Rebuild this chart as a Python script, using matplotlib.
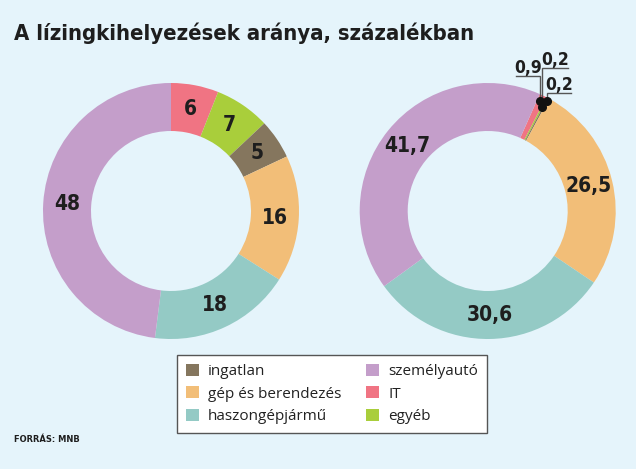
import matplotlib
matplotlib.use("Agg")
import matplotlib.pyplot as plt
from matplotlib.patches import Patch
from matplotlib import font_manager as fm
import numpy as np

# ---- data ----
categories = ["IT", "egyéb", "ingatlan", "gép és berendezés", "haszongépjármű", "személyautó"]
left_values = [6, 7, 5, 16, 18, 48]
right_values = [0.9, 0.2, 0.2, 26.5, 30.6, 41.7]
left_labels = ["6", "7", "5", "16", "18", "48"]
right_labels = ["0,9", "0,2", "0,2", "26,5", "30,6", "41,7"]
colors = ["#F07483", "#A9CE3B", "#85765E", "#F2BE78", "#94CAC5", "#C49ECA"]
legend_order = [2, 3, 4, 5, 0, 1]

BG = "#E5F4FB"
TXT = "#1E1E1E"


def pick_condensed_bold():
    prefs = ["LiberationSansNarrow-Bold", "DejaVuSansCondensed-Bold",
             "RobotoCondensed-Bold", "OpenSans_Condensed-Bold", "OpenSansCondensed-Bold",
             "NotoSans-CondensedBold", "NotoSansDisplay-CondensedBold"]
    files = [f.fname for f in fm.fontManager.ttflist]
    for p in prefs:
        for fn in files:
            if p.lower() in fn.lower().replace(" ", ""):
                return fm.FontProperties(fname=fn)
    for f in fm.fontManager.ttflist:
        if f.stretch in ("condensed", "semi-condensed", "extra-condensed") and \
                f.weight in (700, "bold", 800, 900) and f.style == "normal":
            return fm.FontProperties(fname=f.fname)
    return fm.FontProperties(family="DejaVu Sans", weight="bold")


CFP = pick_condensed_bold()


def cfp(size):
    p = CFP.copy()
    p.set_size(size)
    return p


W, H = 636, 469
fig = plt.figure(figsize=(W / 100, H / 100), dpi=100, facecolor=BG)

R_PX = 128.0
XL, YL = 1.3, 1.4


def make_ax(cx, cy):
    w = 2 * XL * R_PX
    h = 2 * YL * R_PX
    ax = fig.add_axes([(cx - w / 2) / W, (H - cy - h / 2) / H, w / W, h / H])
    ax.set_aspect("equal")
    ax.axis("off")
    ax.patch.set_alpha(0)
    return ax


ax1 = make_ax(171, 211)
ax2 = make_ax(487.7, 211)

wp = dict(width=0.375, edgecolor="none", linewidth=0)
w1, _ = ax1.pie(left_values, colors=colors, startangle=90, counterclock=False,
                radius=1, wedgeprops=wp)
w2, _ = ax2.pie(right_values, colors=colors, startangle=66, counterclock=False,
                radius=1, wedgeprops=wp)
for ax in (ax1, ax2):
    ax.set_xlim(-XL, XL)
    ax.set_ylim(-YL, YL)

lab_r = 0.8125
for w, t in zip(w1, left_labels):
    a = np.deg2rad((w.theta1 + w.theta2) / 2)
    ax1.text(lab_r * np.cos(a), lab_r * np.sin(a), t, fontproperties=cfp(15),
             color=TXT, ha="center", va="center")

for i, (w, t) in enumerate(zip(w2, right_labels)):
    if i >= 3:
        a = np.deg2rad((w.theta1 + w.theta2) / 2)
        ax2.text(lab_r * np.cos(a), lab_r * np.sin(a), t, fontproperties=cfp(15),
                 color=TXT, ha="center", va="center")

# small slice callouts: (dot radius, line height, horizontal length)
callouts = {0: (0.95, 1.055, -0.19), 1: (0.92, 1.115, 0.20), 2: (0.975, 0.92, 0.19)}
for i, (rd, yl, hl) in callouts.items():
    w = w2[i]
    a = np.deg2rad((w.theta1 + w.theta2) / 2)
    xd, yd = rd * np.cos(a), rd * np.sin(a)
    ax2.plot([xd, xd, xd + hl], [yd, yl, yl], color="#555555", lw=1.0,
             solid_joinstyle="miter", zorder=3)
    ax2.plot([xd], [yd], "o", color="#111111", markersize=5.5, zorder=4)
    ax2.text(xd + hl / 2, yl + 0.025, right_labels[i], fontproperties=cfp(12.5),
             color=TXT, ha="center", va="baseline")

# legend
handles = [Patch(facecolor=colors[i], edgecolor="none") for i in legend_order]
labels = [categories[i] for i in legend_order]
leg = fig.legend(handles, labels, ncol=2, loc="center",
                 bbox_to_anchor=(332 / W, 1 - 394 / H),
                 frameon=True, fancybox=False, prop=dict(family="Open Sans", size=11),
                 handlelength=0.85, handleheight=0.85, handletextpad=0.6,
                 columnspacing=1.6, labelspacing=0.45, borderpad=0.6)
fr = leg.get_frame()
fr.set_facecolor("white")
fr.set_edgecolor("#555555")
fr.set_linewidth(1.0)
fr.set_alpha(1)
for t in leg.get_texts():
    t.set_color("#222222")

title = fig.text(14 / W, 1 - 40 / H, "A lízingkihelyezések aránya, százalékban",
                 fontproperties=cfp(22), color=TXT, ha="left", va="baseline")
src = fig.text(14 / W, 1 - 442 / H, "FORRÁS: MNB", fontproperties=cfp(9),
               color=TXT, ha="left", va="baseline")

# fit text widths to the reference layout
fig.canvas.draw()
r = fig.canvas.get_renderer()
for t, target, mx in ((title, 458, 24), (src, 66, 10)):
    bw = t.get_window_extent(r).width
    s = t.get_fontsize() * target / bw
    t.set_fontsize(min(s, mx))

fig.savefig("out.png", dpi=100, facecolor=BG)
